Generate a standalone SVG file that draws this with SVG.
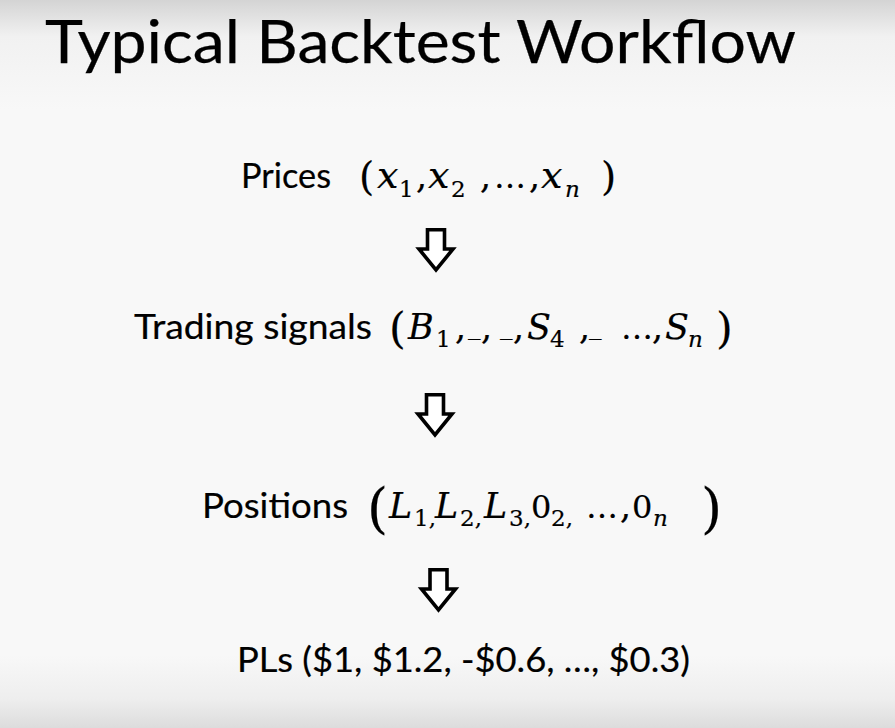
<svg xmlns="http://www.w3.org/2000/svg" width="895" height="728" viewBox="0 0 895 728">
<defs>
<linearGradient id="bg" x1="0" y1="0" x2="0" y2="1">
<stop offset="0" stop-color="#d4d4d4"/>
<stop offset="0.05" stop-color="#f1f1f1"/>
<stop offset="0.15" stop-color="#f8f8f8"/>
<stop offset="0.9" stop-color="#f8f8f8"/>
<stop offset="0.96" stop-color="#eeeeee"/>
<stop offset="1" stop-color="#dcdcdc"/>
</linearGradient>
<path id="arrow" d="M-8.5,1.8 H8.5 V21 H17 L0,42 L-17,21 H-8.5 Z"/>
<style>
.sans{font-family:Lato,"Open Sans","Liberation Sans",sans-serif;fill:#000;stroke:#000;}
.title{font-size:60px;stroke-width:0.25;}
.lbl{font-size:35px;stroke-width:0.2;}
.m{font-family:"DejaVu Serif","Liberation Serif",serif;fill:#000;font-size:35px;stroke:#000;stroke-width:0.2;}
.i{font-style:italic;}
.lc{font-size:38px;}
.cap{font-size:35px;}
.sub{font-size:23px;}
.arr{fill:#ffffff;stroke:#000;stroke-width:3.6;stroke-linejoin:miter;}
</style>
</defs>
<rect x="0" y="0" width="895" height="728" fill="url(#bg)"/>

<g id="title">
<text class="sans title" x="45" y="63" textLength="751" lengthAdjust="spacingAndGlyphs">Typical Backtest Workflow</text>
</g>

<g id="prices">
<text class="sans lbl" x="241" y="188" textLength="90" lengthAdjust="spacingAndGlyphs">Prices</text>
<text class="m">
<tspan x="359" y="190" style="font-size:39px">(</tspan>
<tspan class="i lc" x="377" y="188">x</tspan>
<tspan class="sub" x="399" y="197">1</tspan>
<tspan x="416" y="188">,</tspan>
<tspan class="i lc" x="428" y="188">x</tspan>
<tspan class="sub" x="451" y="197">2</tspan>
<tspan x="480" y="188">,</tspan>
<tspan x="494" y="188" style="font-size:32px">…</tspan>
<tspan x="529" y="188">,</tspan>
<tspan class="i lc" x="541" y="188">x</tspan>
<tspan class="sub i" x="565" y="197">n</tspan>
<tspan x="601" y="190" style="font-size:39px">)</tspan>
</text>
</g>

<g id="signals">
<text class="sans lbl" x="134" y="339" textLength="238" lengthAdjust="spacingAndGlyphs">Trading signals</text>
<text class="m">
<tspan x="389" y="343" style="font-size:43px">(</tspan>
<tspan class="i cap" x="408" y="339">B</tspan>
<tspan class="sub" x="436" y="347">1</tspan>
<tspan x="455" y="339">,</tspan>
<tspan x="468" y="334" style="font-size:25px">_</tspan>
<tspan x="481" y="339">,</tspan>
<tspan x="500" y="334" style="font-size:25px">_</tspan>
<tspan x="513" y="339">,</tspan>
<tspan class="i cap" x="527" y="339">S</tspan>
<tspan class="sub" x="550" y="347">4</tspan>
<tspan x="579" y="339">,</tspan>
<tspan x="589" y="334" style="font-size:25px">_</tspan>
<tspan x="621" y="339" style="font-size:32px">…</tspan>
<tspan x="652" y="339">,</tspan>
<tspan class="i cap" x="665" y="339">S</tspan>
<tspan class="sub i" x="688" y="347">n</tspan>
<tspan x="716" y="343" style="font-size:43px">)</tspan>
</text>
</g>

<g id="positions">
<text class="sans lbl" x="202" y="518" textLength="146" lengthAdjust="spacingAndGlyphs">Positions</text>
<text class="m">
<tspan x="367" y="527" style="font-size:54px">(</tspan>
<tspan class="i cap" x="389" y="518">L</tspan>
<tspan class="sub" x="414" y="526">1,</tspan>
<tspan class="i cap" x="435" y="518">L</tspan>
<tspan class="sub" x="460" y="526">2,</tspan>
<tspan class="i cap" x="484" y="518">L</tspan>
<tspan class="sub" x="509" y="526">3,</tspan>
<tspan x="531" y="518" style="font-size:32px">0</tspan>
<tspan class="sub" x="551" y="526">2,</tspan>
<tspan x="586" y="518" style="font-size:32px">…</tspan>
<tspan x="620" y="518">,</tspan>
<tspan x="632" y="518" style="font-size:32px">0</tspan>
<tspan class="sub i" x="653" y="526">n</tspan>
<tspan x="701" y="527" style="font-size:54px">)</tspan>
</text>
</g>

<g id="pls">
<text class="sans lbl" x="237" y="672" textLength="453" lengthAdjust="spacingAndGlyphs">PLs ($1, $1.2, -$0.6, …, $0.3)</text>
</g>

<g id="connectors">
<use href="#arrow" class="arr" transform="translate(436,228)"/>
<use href="#arrow" class="arr" transform="translate(435,393)"/>
<use href="#arrow" class="arr" transform="translate(438.5,568)"/>
</g>
</svg>
